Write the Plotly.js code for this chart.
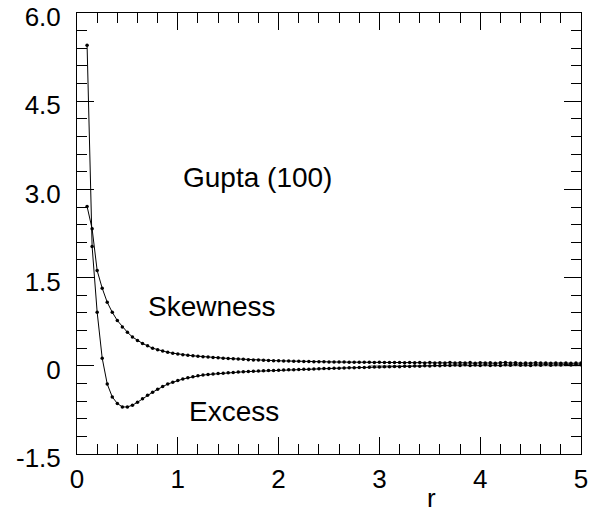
<!DOCTYPE html>
<html>
<head>
<meta charset="utf-8">
<script src="https://cdn.plot.ly/plotly-3.0.1.min.js"></script>
<style>html,body{margin:0;padding:0;background:#fff;}#chart{width:589px;height:512px;}</style>
</head>
<body>
<div id="chart"></div>
<script>
var rValues = [0.10,0.15,0.20,0.25,0.30,0.35,0.40,0.45,0.50,0.55,0.60,0.65,0.70,0.75,0.80,0.85,0.90,0.95,1.00,1.05,1.10,1.15,1.20,1.25,1.30,1.35,1.40,1.45,1.50,1.55,1.60,1.65,1.70,1.75,1.80,1.85,1.90,1.95,2.00,2.05,2.10,2.15,2.20,2.25,2.30,2.35,2.40,2.45,2.50,2.55,2.60,2.65,2.70,2.75,2.80,2.85,2.90,2.95,3.00,3.05,3.10,3.15,3.20,3.25,3.30,3.35,3.40,3.45,3.50,3.55,3.60,3.65,3.70,3.75,3.80,3.85,3.90,3.95,4.00,4.05,4.10,4.15,4.20,4.25,4.30,4.35,4.40,4.45,4.50,4.55,4.60,4.65,4.70,4.75,4.80,4.85,4.90,4.95,5.00];

var skewness = [2.71,2.33,1.62,1.32,1.08,0.91,0.77,0.66,0.57,0.49,0.43,0.38,0.34,0.30,0.275,0.25,0.23,0.215,0.20,0.19,0.18,0.17,0.162,0.155,0.148,0.142,0.136,0.13,0.125,0.12,0.115,0.11,0.105,0.10,0.097,0.094,0.091,0.088,0.085,0.083,0.080,0.078,0.076,0.074,0.072,0.071,0.069,0.068,0.066,0.065,0.064,0.063,0.062,0.061,0.060,0.059,0.062,0.057,0.060,0.055,0.058,0.054,0.057,0.052,0.056,0.050,0.055,0.048,0.054,0.047,0.053,0.049,0.055,0.046,0.052,0.048,0.054,0.045,0.051,0.047,0.053,0.044,0.050,0.056,0.046,0.052,0.043,0.049,0.045,0.050,0.046,0.048,0.044,0.049,0.045,0.047,0.043,0.048,0.046];

var excess = [5.45,2.03,0.91,0.13,-0.31,-0.53,-0.64,-0.70,-0.70,-0.67,-0.62,-0.56,-0.50,-0.45,-0.40,-0.35,-0.31,-0.28,-0.25,-0.225,-0.205,-0.185,-0.17,-0.158,-0.148,-0.14,-0.132,-0.125,-0.118,-0.112,-0.107,-0.102,-0.098,-0.094,-0.090,-0.086,-0.082,-0.079,-0.076,-0.072,-0.069,-0.066,-0.063,-0.060,-0.057,-0.054,-0.051,-0.048,-0.045,-0.042,-0.040,-0.037,-0.035,-0.032,-0.030,-0.027,-0.025,-0.022,-0.020,-0.016,-0.018,-0.012,-0.015,-0.008,-0.012,-0.004,-0.009,0.002,-0.005,0.006,0.000,0.010,0.003,0.014,0.005,0.016,0.004,0.012,0.006,0.018,0.007,0.013,0.004,0.017,0.008,0.020,0.010,0.015,0.006,0.019,0.011,0.022,0.009,0.017,0.012,0.024,0.014,0.020,0.016];

var refLineX = [2.9, 5.0];
var refLineY = [0, 0];

var yTickVals = [-1.5, 0, 1.5, 3.0, 4.5, 6.0];
var yTickText = ["-1.5", "0", "1.5", "3.0", "4.5", "6.0"];
var xTickVals = [0, 1, 2, 3, 4, 5];
var xTickText = ["0", "1", "2", "3", "4", "5"];

var labels = [
  {text: "Gupta (100)", x: 1.79, y: 3.20},
  {text: "Skewness", x: 1.344, y: 1.01},
  {text: "Excess", x: 1.556, y: -0.78}
];

var FONT = "Liberation Sans, Arial, Helvetica, sans-serif";

var traces = [
  {x: refLineX, y: refLineY, mode: "lines", line: {color: "#888", width: 1}, hoverinfo: "skip"},
  {x: rValues, y: skewness, mode: "lines+markers", line: {color: "#000", width: 1}, marker: {color: "#000", size: 3.5}},
  {x: rValues, y: excess, mode: "lines+markers", line: {color: "#000", width: 1}, marker: {color: "#000", size: 3.5}}
];

var annotations = labels.map(function (l) {
  return {text: l.text, x: l.x, y: l.y, xref: "x", yref: "y", showarrow: false,
          xanchor: "center", yanchor: "middle", font: {family: FONT, size: 28, color: "#000"}};
});
annotations.push({text: "r", x: 3.52, y: -0.10, xref: "x", yref: "paper", showarrow: false,
                  xanchor: "center", yanchor: "middle", font: {family: FONT, size: 26, color: "#000"}});

var axisCommon = {
  showgrid: false, zeroline: false, showline: true, linecolor: "#000", linewidth: 1,
  mirror: "allticks", ticks: "inside", ticklen: 17, tickwidth: 1, tickcolor: "#000",
  ticklabeloverflow: "allow",
  tickfont: {family: FONT, size: 26, color: "#000"}
};

var layout = {
  width: 589, height: 512,
  margin: {l: 77, r: 8, t: 13, b: 58},
  paper_bgcolor: "#fff", plot_bgcolor: "#fff",
  showlegend: false,
  xaxis: Object.assign({}, axisCommon, {
    range: [0, 5], tickmode: "array", tickvals: xTickVals, ticktext: xTickText,
    ticklabelstandoff: 2,
    minor: {tickmode: "linear", tick0: 0, dtick: 0.2, ticks: "inside", ticklen: 10, tickwidth: 1, tickcolor: "#000", showgrid: false}
  }),
  yaxis: Object.assign({}, axisCommon, {
    range: [-1.5, 6.0], tickmode: "array", tickvals: yTickVals, ticktext: yTickText,
    ticklabelstandoff: 10, ticklabelshift: 4,
    minor: {tickmode: "linear", tick0: -1.5, dtick: 0.3, ticks: "inside", ticklen: 10, tickwidth: 1, tickcolor: "#000", showgrid: false}
  }),
  annotations: annotations
};

Plotly.newPlot("chart", traces, layout, {staticPlot: true, displayModeBar: false});
</script>
</body>
</html>
